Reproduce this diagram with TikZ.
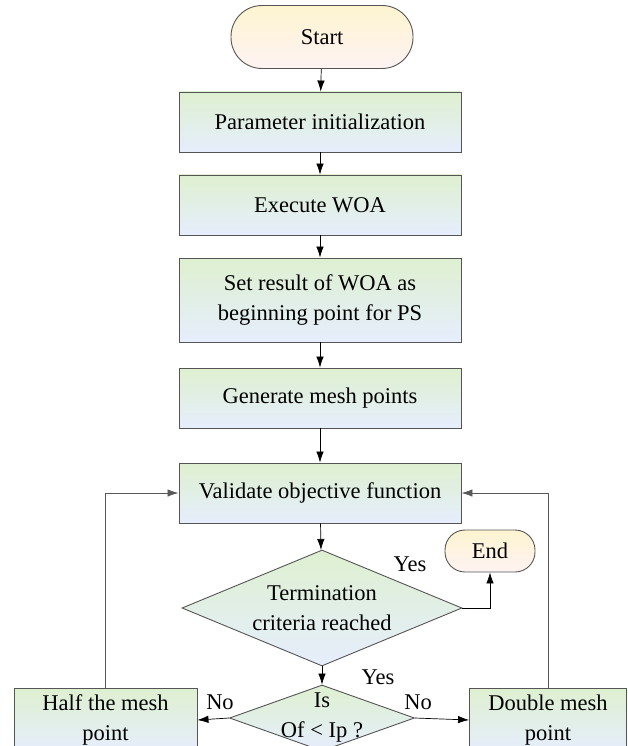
\documentclass[tikz,border=0pt]{standalone}
\usepackage{fontspec}
\setmainfont{Liberation Serif}
\usetikzlibrary{shapes.geometric,arrows.meta}
\definecolor{boxtop}{RGB}{222,240,208}
\definecolor{boxbot}{RGB}{230,238,253}
\definecolor{termtop}{RGB}{253,244,208}
\definecolor{termbot}{RGB}{255,243,243}
\definecolor{edge}{RGB}{85,85,85}
\tikzset{
  procbox/.style={draw=edge,line width=0.9pt,top color=boxtop,bottom color=boxbot,
    minimum width=282pt,minimum height=60pt,align=center,inner sep=2pt},
  termbox/.style={draw=edge,line width=0.9pt,top color=termtop,bottom color=termbot,
    align=center},
  decbox/.style={diamond,draw=edge,line width=0.9pt,top color=boxtop,bottom color=boxbot,
    inner sep=0pt,align=center},
  loopline/.style={->,draw=black!65,line width=0.8pt}
}
\begin{document}
\begin{tikzpicture}[x=1pt,y=-1pt,>={Latex[length=11pt,width=7.5pt]},line width=0.7pt,
  every node/.style={font=\fontsize{22.5}{30}\selectfont}]
\useasboundingbox (0,0) rectangle (628,746);
\clip (0,0) rectangle (628,746);
\node[termbox,minimum width=182pt,minimum height=63pt,rounded corners=31pt] (start) at (322,37) {Start};
\node[procbox] (param) at (320,122) {Parameter initialization};
\node[procbox] (exec) at (320,205) {Execute WOA};
\node[procbox,minimum height=84pt] (setres) at (320,300) {Set result of WOA as\\beginning point for PS};
\node[procbox] (gen) at (320,398) {Generate mesh points};
\node[procbox] (valid) at (320,493) {Validate objective function};
\node[decbox,minimum width=280pt,minimum height=116pt,aspect=2.4,
  label={[align=center]center:Termination\\criteria reached}] (stop) at (322,608) {};
\node[termbox,minimum width=90pt,minimum height=42pt,rounded corners=20pt] (end) at (490,551) {End};
\node[decbox,minimum width=185pt,minimum height=66pt,aspect=2.8,
  label={[align=center]center:Is\\Of < Ip ?}] (isless) at (322,718) {};
\node[procbox,minimum width=183pt,minimum height=64pt] (half) at (105.5,720) {Half the mesh\\point};
\node[procbox,minimum width=157pt,minimum height=64pt] (double) at (548,720) {Double mesh\\point};
\draw[->] (start) -- (param);
\draw[->] (param) -- (exec);
\draw[->] (exec) -- (setres);
\draw[->] (setres) -- (gen);
\draw[->] (gen) -- (valid);
\draw[->] (valid) -- (stop);
\draw[->] (stop.east) -| (end.south);
\draw[->] (stop.south) -- (isless.north);
\draw[->] (isless.west) -- (half.east);
\draw[->] (isless.east) -- (double.east -| double.west);
\draw[loopline] (half.north) |- (valid.west);
\draw[loopline] (double.north) |- (valid.east);
\node (yesend) at (410,564) {Yes};
\node (yesis) at (378,677) {Yes};
\node (nohalf) at (220,702) {No};
\node (nodouble) at (418,702) {No};
\end{tikzpicture}
\end{document}
